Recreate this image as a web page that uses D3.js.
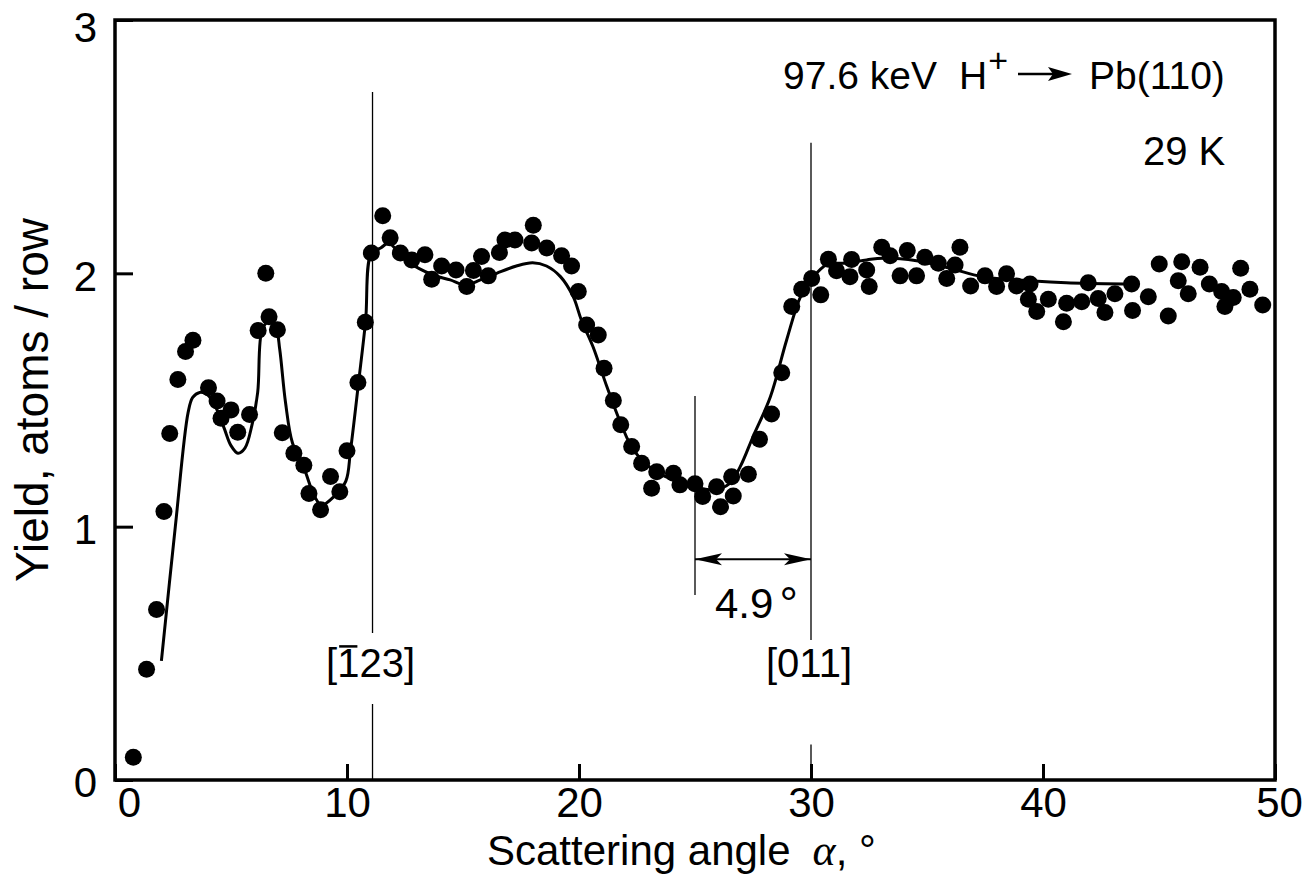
<!DOCTYPE html>
<html>
<head>
<meta charset="utf-8">
<script src="https://cdn.jsdelivr.net/npm/d3@7"></script>
<style>
  body { margin: 0; background: #fff; }
  text { font-family: "Liberation Sans", Arial, Helvetica, sans-serif; fill: #000; }
</style>
</head>
<body>
<div id="chart"></div>
<script>
// measured points
const angle = [0.79, 1.36, 1.79, 2.11, 2.36, 2.71, 3.04, 3.36, 4.03, 4.4, 4.57, 5.0, 5.29, 5.8, 6.17, 6.5, 6.64, 7.0,
  7.21, 7.71, 8.14, 8.36, 8.86, 9.29, 9.69, 10.0, 10.47, 10.79, 11.05, 11.54, 11.86, 12.3, 12.79, 13.36, 13.65, 14.08,
  14.7, 15.16, 15.45, 15.8, 16.09, 16.57, 16.81, 17.24, 17.96, 18.03, 18.61, 19.25, 19.68, 19.97, 20.33, 20.83, 21.08,
  21.48, 21.8, 22.27, 22.7, 23.13, 23.35, 24.07, 24.35, 25.0, 25.33, 25.93, 26.1, 26.58, 26.65, 27.3, 27.78, 28.3,
  28.74, 29.17, 29.6, 30.03, 30.42, 30.75, 31.1, 31.68, 31.75, 32.4, 32.51, 33.05, 33.41, 33.84, 34.15, 34.55, 34.91,
  35.49, 35.85, 36.21, 36.42, 36.88, 37.5, 38.0, 38.43, 38.86, 39.37, 39.44, 39.73, 40.23, 40.88, 41.02, 41.67, 41.95,
  42.38, 42.67, 43.1, 43.82, 43.86, 44.54, 45.01, 45.4, 45.83, 45.98, 46.26, 46.77, 47.17, 47.7, 47.84, 48.2, 48.52,
  48.92, 49.47]
const yieldVal = [0.09, 0.437, 0.673, 1.06, 1.368, 1.581, 1.691, 1.736, 1.548, 1.496, 1.428, 1.461, 1.373, 1.443, 1.774,
  2.0, 1.829, 1.777, 1.371, 1.29, 1.242, 1.131, 1.067, 1.198, 1.138, 1.30, 1.569, 1.807, 2.08, 2.227, 2.14, 2.08, 2.053,
  2.073, 1.977, 2.029, 2.013, 1.948, 2.011, 2.066, 1.99, 2.082, 2.132, 2.132, 2.12, 2.19, 2.10, 2.069, 2.029, 1.928,
  1.796, 1.757, 1.625, 1.498, 1.402, 1.316, 1.25, 1.152, 1.217, 1.211, 1.165, 1.169, 1.119, 1.158, 1.079, 1.197, 1.121,
  1.207, 1.345, 1.445, 1.608, 1.869, 1.937, 1.98, 1.915, 2.056, 2.01, 1.987, 2.055, 2.013, 1.948, 2.103, 2.069, 1.99,
  2.09, 1.99, 2.063, 2.04, 1.98, 2.033, 2.103, 1.95, 1.99, 1.948, 1.998, 1.95, 1.898, 1.958, 1.849, 1.898, 1.809, 1.882,
  1.888, 1.963, 1.901, 1.845, 1.919, 1.958, 1.853, 1.908, 2.037, 1.832, 1.971, 2.046, 1.919, 2.024, 1.958, 1.928, 1.869,
  1.905, 2.02, 1.937, 1.875]

// calculated curve
const curveAngle = [2.0, 2.6, 3.15, 3.35, 3.65, 4.0, 4.3, 4.7, 5.0, 5.3, 5.6, 5.9, 6.15, 6.35, 6.65, 6.95, 7.1, 7.35,
  7.65, 8.15, 8.6, 8.9, 9.45, 9.95, 10.15, 10.5, 10.8, 11.05, 11.45, 11.8, 12.15, 12.65, 13.7, 14.45, 15.1, 15.75,
  16.45, 17.3, 18.0, 18.6, 19.2, 19.75, 20.1, 20.6, 21.2, 21.8, 22.35, 23.2, 24.1, 24.95, 25.8, 26.5, 26.95, 27.5,
  28.25, 28.95, 29.55, 30.05, 30.7, 31.5, 32.4, 33.1, 34.55, 36.0, 37.4, 39.6, 41.0, 43.5]
const curveYield = [0.47, 1.0, 1.45, 1.51, 1.53, 1.52, 1.48, 1.39, 1.32, 1.29, 1.31, 1.40, 1.53, 1.78, 1.81, 1.78, 1.70,
  1.49, 1.33, 1.23, 1.12, 1.085, 1.12, 1.18, 1.30, 1.57, 1.81, 2.08, 2.10, 2.12, 2.09, 2.045, 1.994, 1.974, 1.954, 1.974,
  2.0, 2.029, 2.042, 2.029, 1.987, 1.908, 1.816, 1.711, 1.553, 1.408, 1.303, 1.224, 1.184, 1.158, 1.145, 1.171, 1.237,
  1.355, 1.513, 1.737, 1.908, 1.98, 2.035, 2.04, 2.053, 2.06, 2.05, 2.02, 1.987, 1.97, 1.963, 1.958]

const xTicks = [0, 10, 20, 30, 40, 50]
const yTicks = [0, 1, 2, 3]

// crystal axes: position, upper line top/bottom, lower line top (in data units)
const directions = [
  { name: "123", bar: true, at: 11.1, top: 2.716, bottom: 0.58, lower: 0.3 },
  { name: "011", bar: false, at: 30.0, top: 2.515, bottom: 0.553, lower: 0.14 }
]

const width = 1305, height = 889
const x = d3.scaleLinear().domain([0, 50]).range([115, 1275])
const y = d3.scaleLinear().domain([0, 3]).range([780, 20])

const svg = d3.select("#chart")
  .append("svg")
  .attr("width", width)
  .attr("height", height)

const xAxis = svg.append("g")
  .attr("transform", `translate(0,${y(0)})`)
  .call(d3.axisBottom(x).tickValues(xTicks).tickSize(-16).tickPadding(7).tickSizeOuter(0))
xAxis.select(".domain").remove()
xAxis.selectAll("line").attr("stroke-width", 3)
xAxis.selectAll("text")
  .attr("font-size", 42)
  .attr("font-family", "'Liberation Sans', Arial, sans-serif")
  .attr("dx", d => d === 0 ? 14 : (d === 50 ? 4 : 0))

const yAxis = svg.append("g")
  .attr("transform", `translate(${x(0)},0)`)
  .call(d3.axisLeft(y).tickValues(yTicks).tickFormat(d3.format("d")).tickSize(-18).tickPadding(18).tickSizeOuter(0))
yAxis.select(".domain").remove()
yAxis.selectAll("line").attr("stroke-width", 3)
yAxis.selectAll("text")
  .attr("font-size", 42)
  .attr("font-family", "'Liberation Sans', Arial, sans-serif")
  .attr("dy", d => d === 3 ? "0.5em" : "0.4em")

svg.append("rect")
  .attr("x", x(0))
  .attr("y", y(3))
  .attr("width", x(50) - x(0))
  .attr("height", y(0) - y(3))
  .attr("fill", "none")
  .attr("stroke", "#000")
  .attr("stroke-width", 3.5)

// direction lines
directions.forEach(d => {
  svg.append("line")
    .attr("x1", x(d.at)).attr("x2", x(d.at))
    .attr("y1", y(d.top)).attr("y2", y(d.bottom))
    .attr("stroke", "#000").attr("stroke-width", 1.3)
  svg.append("line")
    .attr("x1", x(d.at)).attr("x2", x(d.at))
    .attr("y1", y(d.lower)).attr("y2", y(0))
    .attr("stroke", "#000").attr("stroke-width", 1.3)
  const t = svg.append("text")
    .attr("x", x(d.at) - 2)
    .attr("y", y(0.405))
    .attr("text-anchor", "middle")
    .attr("font-size", 40)
    .text("[" + d.name + "]")
  if (d.bar) {
    const box = t.node().getExtentOfChar(1)
    svg.append("line")
      .attr("x1", box.x + 2).attr("x2", box.x + box.width - 2)
      .attr("y1", y(0.405) - 31).attr("y2", y(0.405) - 31)
      .attr("stroke", "#000").attr("stroke-width", 2.5)
  }
})

// 4.9 degree width marker
const wFrom = 25.0, wTo = 30.0, wLevel = 0.871
svg.append("line")
  .attr("x1", x(wFrom)).attr("x2", x(wFrom))
  .attr("y1", y(1.516)).attr("y2", y(0.73))
  .attr("stroke", "#000").attr("stroke-width", 1.3)
svg.append("line")
  .attr("x1", x(wFrom)).attr("x2", x(wTo))
  .attr("y1", y(wLevel)).attr("y2", y(wLevel))
  .attr("stroke", "#000").attr("stroke-width", 2)
const head = (tip, dir) => {
  const yy = y(wLevel)
  return `M${tip},${yy} L${tip + dir * 27},${yy - 6} L${tip + dir * 21},${yy} L${tip + dir * 27},${yy + 6} Z`
}
svg.append("path").attr("d", head(x(wFrom), 1)).attr("fill", "#000")
svg.append("path").attr("d", head(x(wTo), -1)).attr("fill", "#000")
const wText = svg.append("text")
  .attr("x", x(wFrom) + 20)
  .attr("y", y(wLevel) + 59)
  .attr("font-size", 42)
wText.append("tspan").text("4.9")
wText.append("tspan").attr("dx", 6).attr("dy", 2).attr("font-size", 46).text("°")

// fitted curve
svg.append("path")
  .datum(curveAngle.map((a, i) => [a, curveYield[i]]))
  .attr("fill", "none")
  .attr("stroke", "#000")
  .attr("stroke-width", 3)
  .attr("stroke-linejoin", "round")
  .attr("d", d3.line().x(d => x(d[0])).y(d => y(d[1])).curve(d3.curveCatmullRom.alpha(0.5)))

// data points
svg.append("g")
  .selectAll("circle")
  .data(angle.map((a, i) => [a, yieldVal[i]]))
  .join("circle")
  .attr("cx", d => x(d[0]))
  .attr("cy", d => y(d[1]))
  .attr("r", 8.5)
  .attr("fill", "#000")

// header
const header = svg.append("text")
  .attr("x", 783)
  .attr("y", 89)
  .attr("font-size", 39)
header.append("tspan").text("97.6 keV")
header.append("tspan").attr("x", 959).text("H")
header.append("tspan").attr("dx", 1).attr("dy", -17).attr("font-size", 34).text("+")
header.append("tspan").attr("x", 1089).attr("dy", 17).text("Pb(110)")
svg.append("line")
  .attr("x1", 1018).attr("x2", 1060)
  .attr("y1", 74).attr("y2", 74)
  .attr("stroke", "#000").attr("stroke-width", 2.5)
svg.append("path")
  .attr("d", "M1072,74 L1048,67 L1053,74 L1048,81 Z")
  .attr("fill", "#000")

svg.append("text")
  .attr("x", 1143)
  .attr("y", 165)
  .attr("font-size", 40)
  .text("29 K")

// axis titles
const xTitle = svg.append("text")
  .attr("x", 487)
  .attr("y", 865)
  .attr("font-size", 42)
xTitle.append("tspan").text("Scattering angle")
xTitle.append("tspan")
  .attr("dx", 22)
  .attr("font-family", "'Liberation Serif', 'Times New Roman', serif")
  .attr("font-style", "italic")
  .attr("font-size", 44)
  .text("α")
xTitle.append("tspan").text(", °")

svg.append("text")
  .attr("transform", `translate(48,${y(1.5)}) rotate(-90)`)
  .attr("text-anchor", "middle")
  .attr("font-size", 46)
  .text("Yield, atoms / row")
</script>
</body>
</html>
